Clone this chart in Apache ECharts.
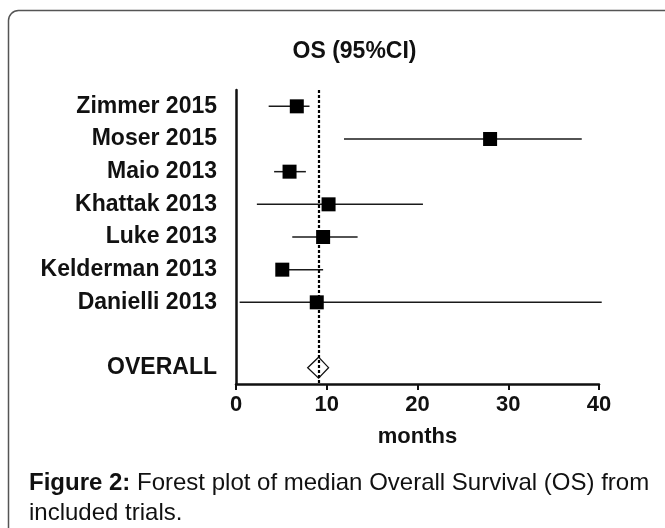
<!DOCTYPE html>
<html>
<head>
<meta charset="utf-8">
<script src="https://cdn.jsdelivr.net/npm/echarts@6/dist/echarts.min.js"></script>
<style>
  html, body { margin: 0; padding: 0; background: #fff; }
  #chart { width: 665px; height: 528px; }
</style>
</head>
<body>
<div id="chart"></div>
<script>
// forest plot data (months)
var studies = ['Zimmer 2015', 'Moser 2015', 'Maio 2013', 'Khattak 2013', 'Luke 2013', 'Kelderman 2013', 'Danielli 2013'];
var medians = [6.7, 28.0, 5.9, 10.2, 9.6, 5.1, 8.9];
var lowerCI = [3.6, 11.9, 4.2, 2.3, 6.2, 4.9, 0.4];
var upperCI = [8.1, 38.1, 7.7, 20.6, 13.4, 9.6, 40.3];
var overallLabel = 'OVERALL';
var overall = [9.1, 7.9, 10.2]; // median, lower, upper
var xTicks = [0, 10, 20, 30, 40];

var categories = studies.concat(['', overallLabel]);
var FONT = '"Liberation Sans", Arial, sans-serif';

var whiskerData = studies.map(function (s, i) {
  return [lowerCI[i], upperCI[i], s];
});
var boxData = studies.map(function (s, i) {
  return [medians[i], s];
});

var chart = echarts.init(document.getElementById('chart'), null, { renderer: 'canvas' });

var option = {
  animation: false,
  backgroundColor: '#fff',
  grid: { left: 236, right: 66, top: 90, bottom: 144, containLabel: false },
  xAxis: {
    type: 'value',
    min: xTicks[0],
    max: xTicks[xTicks.length - 1],
    interval: 10,
    name: 'months',
    nameLocation: 'middle',
    nameGap: 42,
    nameTextStyle: { fontFamily: FONT, fontWeight: 'bold', fontSize: 22, color: '#111' },
    axisLine: { show: true, lineStyle: { color: '#111', width: 2.5 } },
    axisTick: { show: true, length: 6, lineStyle: { color: '#111', width: 2 } },
    axisLabel: { margin: 10, fontFamily: FONT, fontWeight: 'bold', fontSize: 22, color: '#111' },
    splitLine: { show: false }
  },
  yAxis: {
    type: 'category',
    data: categories,
    inverse: true,
    axisLine: { show: true, lineStyle: { color: '#111', width: 2.5 } },
    axisTick: { show: false },
    axisLabel: { margin: 19, fontFamily: FONT, fontWeight: 'bold', fontSize: 23, color: '#111' },
    splitLine: { show: false }
  },
  series: [
    {
      // CI whiskers
      type: 'custom',
      data: whiskerData,
      renderItem: function (params, api) {
        var a = api.coord([api.value(0), api.value(2)]);
        var b = api.coord([api.value(1), api.value(2)]);
        return {
          type: 'line',
          shape: { x1: a[0], y1: a[1], x2: b[0], y2: b[1] },
          style: { stroke: '#1a1a1a', lineWidth: 1.5 }
        };
      },
      encode: { x: [0, 1], y: 2 },
      z: 2
    },
    {
      // medians
      type: 'scatter',
      data: boxData,
      symbol: 'rect',
      symbolSize: 14,
      itemStyle: { color: '#000', borderWidth: 0, opacity: 1 },
      z: 3,
      markLine: {
        silent: true,
        symbol: 'none',
        label: { show: false },
        lineStyle: { color: '#000', type: [3, 2], width: 2.2 },
        data: [{ xAxis: overall[0] }]
      }
    },
    {
      // overall diamond
      type: 'custom',
      data: [[overall[0], overall[1], overall[2], overallLabel]],
      renderItem: function (params, api) {
        var c = api.coord([api.value(0), api.value(3)]);
        var l = api.coord([api.value(1), api.value(3)]);
        var r = api.coord([api.value(2), api.value(3)]);
        var h = 10.5;
        return {
          type: 'polygon',
          shape: { points: [[l[0], c[1]], [c[0], c[1] - h], [r[0], c[1]], [c[0], c[1] + h]] },
          style: { fill: '#fff', stroke: '#111', lineWidth: 1.3 }
        };
      },
      encode: { x: [0, 1, 2], y: 3 },
      z: 4
    }
  ],
  graphic: [
    {
      type: 'rect',
      silent: true,
      shape: { x: 8.5, y: 10.5, width: 700, height: 560, r: 10 },
      style: { fill: null, stroke: '#555', lineWidth: 1.5 },
      z: -1
    },
    {
      type: 'text',
      x: 354.5,
      y: 52,
      style: {
        text: 'OS (95%CI)',
        fontFamily: FONT,
        fontWeight: 'bold',
        fontSize: 23,
        fill: '#111',
        align: 'center',
        verticalAlign: 'middle'
      }
    },
    {
      type: 'text',
      x: 29,
      y: 468,
      style: {
        text: '{b|Figure 2:} Forest plot of median Overall Survival (OS) from\nincluded trials.',
        fontFamily: FONT,
        fontSize: 24,
        lineHeight: 30,
        fill: '#111',
        rich: {
          b: { fontFamily: FONT, fontWeight: 'bold', fontSize: 24, lineHeight: 30, fill: '#111' }
        }
      }
    }
  ]
};

chart.setOption(option);
</script>
</body>
</html>
